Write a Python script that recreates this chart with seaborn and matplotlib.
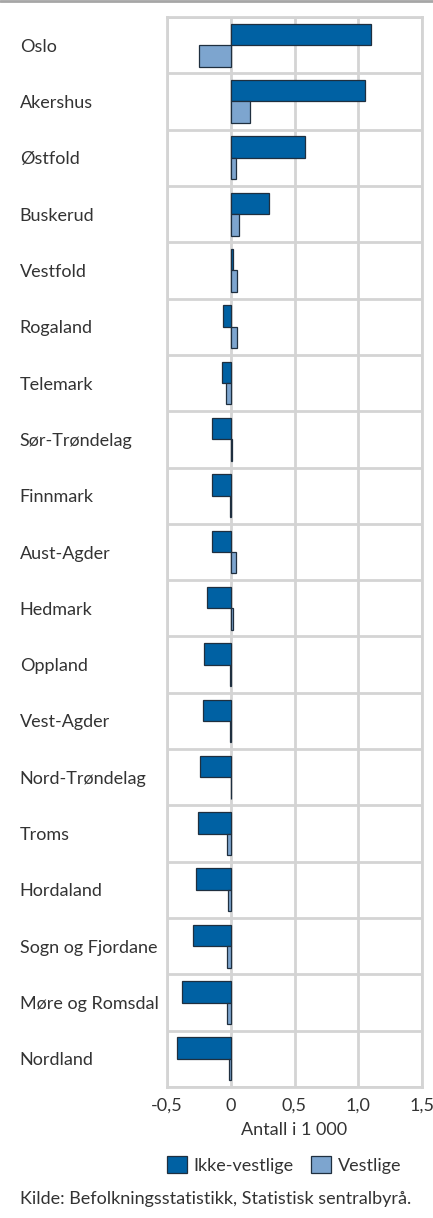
import matplotlib
matplotlib.use("Agg")
import matplotlib.pyplot as plt
import seaborn as sns
import pandas as pd
import numpy as np
from matplotlib.patches import Patch
from matplotlib.ticker import FixedLocator

fylker = ["Oslo", "Akershus", "Østfold", "Buskerud", "Vestfold", "Rogaland", "Telemark",
          "Sør-Trøndelag", "Finnmark", "Aust-Agder", "Hedmark", "Oppland", "Vest-Agder",
          "Nord-Trøndelag", "Troms", "Hordaland", "Sogn og Fjordane", "Møre og Romsdal", "Nordland"]
ikke_vestlige = [1.10, 1.05, 0.58, 0.30, 0.02, -0.06, -0.065, -0.145, -0.145, -0.15, -0.19,
                 -0.21, -0.22, -0.24, -0.255, -0.27, -0.30, -0.38, -0.425]
vestlige = [-0.25, 0.15, 0.04, 0.065, 0.05, 0.05, -0.04, 0.01, -0.005, 0.04, 0.02,
            -0.005, -0.005, 0.005, -0.03, -0.02, -0.03, -0.03, -0.01]
series = ["Ikke-vestlige", "Vestlige"]
xticks = [-0.5, 0, 0.5, 1.0, 1.5]
xticklabels = ["-0,5", "0", "0,5", "1,0", "1,5"]
xlabel = "Antall i 1 000"
source = "Kilde: Befolkningsstatistikk, Statistisk sentralbyrå."

colors = ["#0061a3", "#7da5cf"]
grid_c = "#d4d4d4"
txt_c = "#333333"
fs = 13

df = pd.DataFrame({
    "fylke": fylker * 2,
    "serie": [series[0]] * len(fylker) + [series[1]] * len(fylker),
    "verdi": ikke_vestlige + vestlige,
})

sns.set_theme(style="white")
plt.rcParams["font.family"] = ["Lato", "DejaVu Sans"]

fig = plt.figure(figsize=(4.33, 12.18), dpi=100)
ax = fig.add_axes([167 / 433, 1 - 1087 / 1218, (422 - 167) / 433, (1087 - 17) / 1218])

sns.barplot(data=df, y="fylke", x="verdi", hue="serie", order=fylker, hue_order=series,
            palette=colors, orient="h", width=0.76, edgecolor="#1f2f3f", linewidth=0.9,
            saturation=1, ax=ax, legend=False, zorder=3)

ax.set_xlim(-0.5, 1.5)
ax.set_ylim(len(fylker) - 0.5, -0.5)
ax.xaxis.set_major_locator(FixedLocator(xticks))
ax.set_xticklabels(xticklabels)
ax.yaxis.set_minor_locator(FixedLocator(np.arange(-0.5, len(fylker), 1.0)))
ax.grid(True, axis="x", which="major", color=grid_c, linewidth=2, zorder=0)
ax.grid(True, axis="y", which="minor", color=grid_c, linewidth=2, zorder=0)
ax.grid(False, axis="y", which="major")
ax.set_axisbelow(True)
for s in ax.spines.values():
    s.set_color(grid_c)
    s.set_linewidth(2)

ax.tick_params(axis="y", which="both", length=0, pad=106, labelsize=fs, colors=txt_c)
for lbl in ax.get_yticklabels():
    lbl.set_horizontalalignment("left")
ax.tick_params(axis="x", length=0, pad=8, labelsize=fs, colors=txt_c)
ax.set_ylabel("")
ax.set_xlabel(xlabel, fontsize=fs, color=txt_c, labelpad=6)

handles = [Patch(facecolor=colors[i], edgecolor="#1f2f3f", linewidth=0.9) for i in range(2)]
fig.legend(handles, series, loc="center", bbox_to_anchor=(284 / 433, 1 - 1165 / 1218),
           ncol=2, frameon=False, fontsize=fs, handlelength=1.1, handleheight=1.1,
           handletextpad=0.35, columnspacing=1.0, labelcolor=txt_c)

fig.text(20 / 433, 1 - 1199 / 1218, source, fontsize=fs, color=txt_c, va="center", ha="left")
fig.add_artist(plt.Line2D([0, 1], [1 - 0.5 / 1218] * 2, color="#a6a6a6", linewidth=2,
                          transform=fig.transFigure))

fig.savefig("out.png", dpi=100)
